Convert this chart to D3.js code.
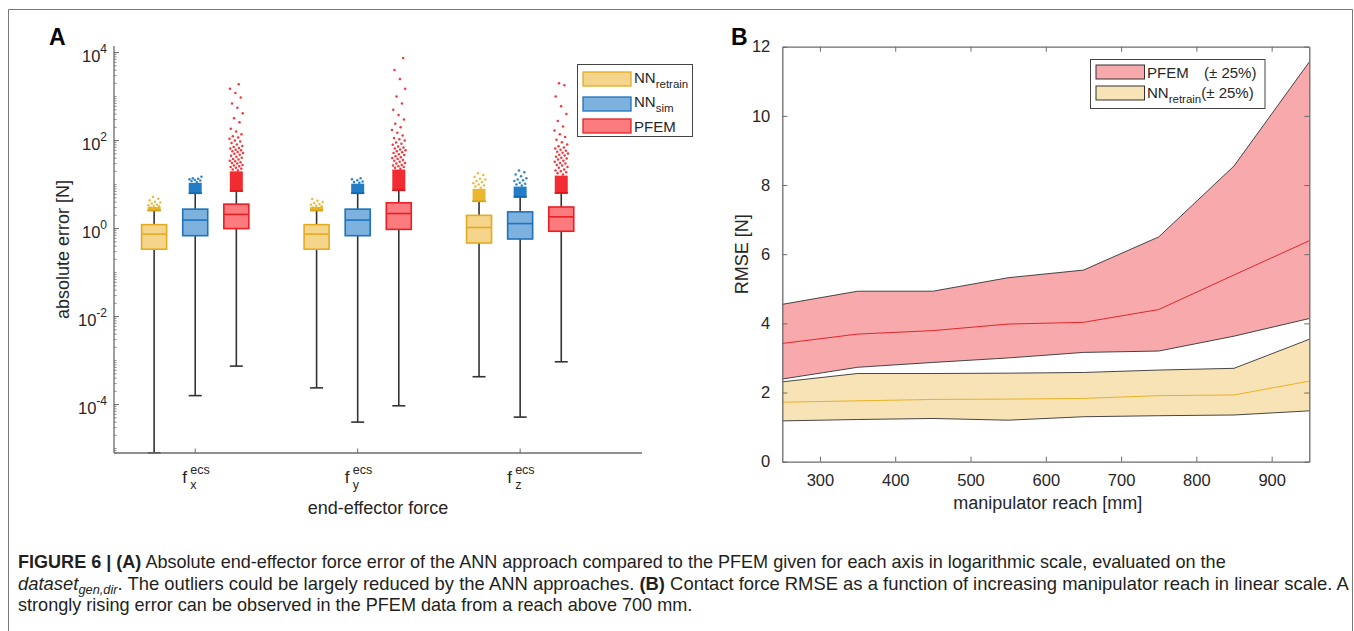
<!DOCTYPE html>
<html>
<head>
<meta charset="utf-8">
<script src="https://cdn.jsdelivr.net/npm/d3@7"></script>
<style>
    body { margin: 0; background: #fff; }
    svg text { font-family: "Liberation Sans", Arial, Helvetica, sans-serif; fill: #262626; }
</style>
</head>
<body>
<svg id="fig" width="1354" height="631"></svg>
<script>
(function() {
    'use strict';

    // ---------- Panel A data (absolute error, log scale) ----------
    var forceAxes = ["x", "y", "z"];
    var models = ["NN_retrain", "NN_sim", "PFEM"];
    // [lower whisker, q1, median, q3, upper whisker] for f_x, f_y, f_z
    var retrainBox = [[8e-6, 0.34, 0.75, 1.23, 2.6], [2.4e-4, 0.34, 0.75, 1.23, 2.6], [4.3e-4, 0.47, 1.06, 2.0, 4.2]];
    var simBox = [[1.6e-4, 0.69, 1.56, 2.77, 6.4], [4e-5, 0.69, 1.56, 2.77, 6.4], [5.2e-5, 0.58, 1.3, 2.4, 5.3]];
    var pfemBox = [[7.5e-4, 1.0, 2.1, 3.6, 7.2], [9.4e-5, 0.96, 2.2, 3.86, 7.5], [9.4e-4, 0.87, 1.85, 3.1, 6.5]];
    // top of the packed outlier cloud right above the whisker
    var retrainCloudTop = [3.1, 3.1, 8];
    var simCloudTop = [11, 10.5, 9];
    var pfemCloudTop = [20, 22, 16];
    // scattered outliers above the packed cloud
    var retrainOutliers = [
        [2.9, 3.0, 3.2, 3.3, 3.4, 3.5, 3.7, 3.9, 4.1, 4.4, 4.8, 5.2],
        [2.9, 3.0, 3.2, 3.3, 3.5, 3.6, 3.8, 4.0, 4.3, 4.7],
        [8.5, 9.0, 9.6, 10, 10.8, 11.5, 12, 13, 13.5, 15, 16.5, 18]
    ];
    var simOutliers = [
        [11.5, 12, 12.4, 12.8, 13.2, 13.6, 14, 15],
        [11, 11.5, 11.8, 12.5, 13.2, 14],
        [9.5, 10, 10.5, 11, 12, 12.5, 13, 14, 15.5, 17, 19, 21]
    ];
    var pfemOutliers = [
        [21, 22, 23, 24, 25, 26, 27, 28, 30, 31, 32, 34, 35, 37, 38, 41, 43, 45, 48, 50, 52, 55, 57, 60, 62, 66, 68, 72,
         75, 82, 88, 95, 100, 110, 118, 125, 140, 160, 185, 260, 320, 420, 560, 700, 950, 1200, 1500, 1900],
        [23, 24, 25, 26, 27, 28, 30, 31, 33, 35, 36, 38, 40, 42, 44, 47, 49, 52, 54, 57, 60, 63, 66, 70, 73, 80, 85, 90,
         100, 108, 115, 130, 150, 175, 200, 240, 300, 380, 500, 700, 1000, 1500, 2500, 4000, 7500],
        [17, 18, 19, 20, 21, 22, 24, 25, 27, 28, 30, 31, 33, 35, 37, 39, 41, 43, 46, 48, 51, 53, 56, 59, 62, 66, 70, 74,
         82, 92, 105, 120, 140, 170, 210, 280, 400, 600, 1000, 1800, 2000]
    ];
    var yTickExp = [-4, -2, 0, 2, 4];

    // ---------- Panel B data (RMSE vs reach) ----------
    var reach = [250, 350, 450, 550, 650, 750, 850, 950];
    var pfemMean = [3.42, 3.69, 3.79, 3.98, 4.03, 4.40, 5.40, 6.39];
    var pfemHigh = [4.55, 4.93, 4.93, 5.32, 5.54, 6.50, 8.55, 11.56];
    var pfemLow = [2.39, 2.73, 2.87, 3.00, 3.16, 3.20, 3.63, 4.14];
    var retrainMean = [1.72, 1.76, 1.80, 1.81, 1.83, 1.91, 1.93, 2.33];
    var retrainHigh = [2.31, 2.55, 2.55, 2.56, 2.58, 2.65, 2.70, 3.54];
    var retrainLow = [1.18, 1.22, 1.25, 1.20, 1.30, 1.33, 1.35, 1.47];
    var reachTicks = [300, 400, 500, 600, 700, 800, 900];
    var rmseTicks = [0, 2, 4, 6, 8, 10, 12];

    // Colours
    var boxFill = ["#f5d58c", "#7db2df", "#fb7b7e"];
    var boxStroke = ["#e4ab1f", "#1f72bb", "#ea1f25"];
    var dotColor = ["#e8b01a", "#0b6fc0", "#f0141c"];
    var axisColor = "#6b6b6b";

    var svg = d3.select("#fig");

    // Frame
    svg.append("path")
        .attr("d", "M8.5,640 L8.5,9.5 L1352.5,9.5 L1352.5,640")
        .attr("fill", "none")
        .attr("stroke", "#777")
        .attr("stroke-width", 1);

    // ================= Panel A =================
    var ax = { left: 114, right: 642, top: 46, bottom: 453 };
    var xA = d3.scaleLinear().domain([0.5, 3.75]).range([ax.left, ax.right]);
    var yA = d3.scaleLog().domain([Math.pow(10, -5.1), Math.pow(10, 4.15)]).range([ax.bottom, ax.top]);
    var gA = svg.append("g");
    var groupOffset = 0.253;
    var boxHalf = 12.5;

    var boxes = [retrainBox, simBox, pfemBox];
    var clouds = [retrainCloudTop, simCloudTop, pfemCloudTop];
    var outliers = [retrainOutliers, simOutliers, pfemOutliers];

    var jitter = function(i) {
        return ((i * 0.6180339) % 1) - 0.5;
    };

    forceAxes.forEach(function(axName, c) {
        models.forEach(function(m, s) {
            var st = boxes[s][c];
            var cx = xA(c + 1 + (s - 1) * groupOffset);
            var g = gA.append("g");

            // whiskers
            g.append("line")
                .attr("x1", cx).attr("x2", cx)
                .attr("y1", yA(st[0])).attr("y2", yA(st[1]))
                .attr("stroke", "#333").attr("stroke-width", 1.6);
            g.append("line")
                .attr("x1", cx).attr("x2", cx)
                .attr("y1", yA(st[3])).attr("y2", yA(st[4]))
                .attr("stroke", "#333").attr("stroke-width", 1.6);
            [st[0], st[4]].forEach(function(v) {
                g.append("line")
                    .attr("x1", cx - 6.5).attr("x2", cx + 6.5)
                    .attr("y1", yA(v)).attr("y2", yA(v))
                    .attr("stroke", "#333").attr("stroke-width", 1.6);
            });

            // outlier cloud
            var top = clouds[s][c];
            g.append("rect")
                .attr("x", cx - 6.5)
                .attr("y", yA(top))
                .attr("width", 13)
                .attr("height", yA(st[4]) - yA(top) + 1)
                .attr("fill", dotColor[s])
                .attr("opacity", 0.9);
            outliers[s][c].forEach(function(v, i) {
                g.append("circle")
                    .attr("cx", cx + jitter(i + 1) * 14)
                    .attr("cy", yA(v))
                    .attr("r", 1.25)
                    .attr("fill", dotColor[s])
                    .attr("opacity", 0.85);
            });

            // box
            g.append("rect")
                .attr("x", cx - boxHalf)
                .attr("y", yA(st[3]))
                .attr("width", boxHalf * 2)
                .attr("height", yA(st[1]) - yA(st[3]))
                .attr("fill", boxFill[s])
                .attr("stroke", boxStroke[s])
                .attr("stroke-width", 1.6);
            g.append("line")
                .attr("x1", cx - boxHalf).attr("x2", cx + boxHalf)
                .attr("y1", yA(st[2])).attr("y2", yA(st[2]))
                .attr("stroke", boxStroke[s]).attr("stroke-width", 1.6);
        });
    });

    // Axes A
    gA.append("line")
        .attr("x1", ax.left).attr("x2", ax.left)
        .attr("y1", ax.top).attr("y2", ax.bottom)
        .attr("stroke", axisColor).attr("stroke-width", 1.3);
    gA.append("line")
        .attr("x1", ax.left).attr("x2", ax.right)
        .attr("y1", ax.bottom).attr("y2", ax.bottom)
        .attr("stroke", axisColor).attr("stroke-width", 1.3);

    var minor = [];
    for (var n = -6; n <= 4; n++) {
        for (var k = 1; k <= 9; k++) {
            var v = k * Math.pow(10, n);
            if (v >= yA.domain()[0] && v <= yA.domain()[1]) minor.push(v);
        }
    }
    gA.selectAll(".minor").data(minor).enter().append("line")
        .attr("class", "minor")
        .attr("x1", ax.left).attr("x2", ax.left + 2.5)
        .attr("y1", function(d) { return yA(d); })
        .attr("y2", function(d) { return yA(d); })
        .attr("stroke", axisColor).attr("stroke-width", 0.8);
    gA.selectAll(".major").data(yTickExp).enter().append("line")
        .attr("class", "major")
        .attr("x1", ax.left).attr("x2", ax.left + 5)
        .attr("y1", function(d) { return yA(Math.pow(10, d)); })
        .attr("y2", function(d) { return yA(Math.pow(10, d)); })
        .attr("stroke", axisColor).attr("stroke-width", 1);

    var yLabels = gA.selectAll(".ylab").data(yTickExp).enter().append("text")
        .attr("class", "ylab")
        .attr("x", ax.left - 7)
        .attr("y", function(d) { return yA(Math.pow(10, d)) + 9; })
        .attr("text-anchor", "end")
        .style("font-size", "16.5px");
    yLabels.append("tspan").text("10");
    yLabels.append("tspan")
        .attr("dy", -9)
        .style("font-size", "12px")
        .text(function(d) { return d; });

    forceAxes.forEach(function(a, c) {
        var tx = xA(c + 1);
        gA.append("line")
            .attr("x1", tx).attr("x2", tx)
            .attr("y1", ax.bottom).attr("y2", ax.bottom - 4.5)
            .attr("stroke", axisColor).attr("stroke-width", 1);
        gA.append("text").attr("x", tx - 13).attr("y", ax.bottom + 30)
            .style("font-size", "17px").text("f");
        gA.append("text").attr("x", tx - 5).attr("y", ax.bottom + 21)
            .style("font-size", "12.5px").text("ecs");
        gA.append("text").attr("x", tx - 5).attr("y", ax.bottom + 36)
            .style("font-size", "12.5px").text(a);
    });

    gA.append("text")
        .attr("x", (ax.left + ax.right) / 2)
        .attr("y", 514)
        .attr("text-anchor", "middle")
        .style("font-size", "18px")
        .text("end-effector force");
    gA.append("text")
        .attr("transform", "translate(69," + ((ax.top + ax.bottom) / 2) + ") rotate(-90)")
        .attr("text-anchor", "middle")
        .style("font-size", "18px")
        .text("absolute error [N]");

    // Legend A
    var legA = gA.append("g");
    legA.append("rect")
        .attr("x", 577.5).attr("y", 64.5).attr("width", 115).attr("height", 72)
        .attr("fill", "#fff").attr("stroke", "#444").attr("stroke-width", 1);
    [72, 97, 119].forEach(function(ly, s) {
        legA.append("rect")
            .attr("x", 583).attr("y", ly).attr("width", 48).attr("height", 14)
            .attr("fill", boxFill[s]).attr("stroke", boxStroke[s]).attr("stroke-width", 1.3);
    });
    var l1 = legA.append("text").attr("x", 634).attr("y", 83).style("font-size", "15px");
    l1.append("tspan").text("NN");
    l1.append("tspan").attr("dy", 5).style("font-size", "11.5px").text("retrain");
    var l2 = legA.append("text").attr("x", 634).attr("y", 107).style("font-size", "15px");
    l2.append("tspan").text("NN");
    l2.append("tspan").attr("dy", 5).style("font-size", "11.5px").text("sim");
    legA.append("text").attr("x", 634).attr("y", 131.5).style("font-size", "15px").text("PFEM");

    // Panel letters
    svg.append("text").attr("x", 49).attr("y", 45)
        .style("font-size", "23px").style("font-weight", "bold").style("fill", "#000").text("A");
    svg.append("text").attr("x", 731).attr("y", 45)
        .style("font-size", "23px").style("font-weight", "bold").style("fill", "#000").text("B");

    // ================= Panel B =================
    var bx = { left: 782.3, right: 1309.3, top: 46.7, bottom: 461.7 };
    var xB = d3.scaleLinear().domain([250, 950]).range([bx.left, bx.right]);
    var yB = d3.scaleLinear().domain([0, 12]).range([bx.bottom, bx.top]);
    var gB = svg.append("g");

    var band = function(lo, hi) {
        return d3.area()
            .x(function(d, i) { return xB(reach[i]); })
            .y0(function(d, i) { return yB(lo[i]); })
            .y1(function(d, i) { return yB(hi[i]); })(reach);
    };
    var line = function(vals) {
        return d3.line()
            .x(function(d, i) { return xB(reach[i]); })
            .y(function(d) { return yB(d); })(vals);
    };

    gB.append("path").attr("d", band(pfemLow, pfemHigh)).attr("fill", "#f7a9ac");
    gB.append("path").attr("d", band(retrainLow, retrainHigh)).attr("fill", "#f7e3b5");
    [pfemHigh, pfemLow, retrainHigh, retrainLow].forEach(function(vals) {
        gB.append("path").attr("d", line(vals))
            .attr("fill", "none").attr("stroke", "#333").attr("stroke-width", 0.9);
    });
    gB.append("path").attr("d", line(pfemMean))
        .attr("fill", "none").attr("stroke", "#e4262b").attr("stroke-width", 1);
    gB.append("path").attr("d", line(retrainMean))
        .attr("fill", "none").attr("stroke", "#e9b324").attr("stroke-width", 1);

    // Axes B (ticks pointing inward)
    var axB = function(axis, tx, ty, labels) {
        var g = gB.append("g")
            .attr("transform", "translate(" + tx + "," + ty + ")")
            .call(axis);
        g.select(".domain").attr("stroke", axisColor).attr("stroke-width", 1.3);
        g.selectAll(".tick line").attr("stroke", axisColor);
        g.selectAll(".tick text")
            .style("font-size", "16.5px")
            .style("font-family", "'Liberation Sans', Arial, sans-serif")
            .attr("fill", "#262626");
        if (!labels) g.selectAll(".tick text").remove();
        return g;
    };
    axB(d3.axisBottom(xB).tickValues(reachTicks).tickSizeInner(-5).tickSizeOuter(0).tickPadding(13),
        0, bx.bottom, true);
    axB(d3.axisTop(xB).tickValues(reachTicks).tickSizeInner(-5).tickSizeOuter(0), 0, bx.top, false);
    axB(d3.axisLeft(yB).tickValues(rmseTicks).tickSizeInner(-5).tickSizeOuter(0).tickPadding(12),
        bx.left, 0, true);
    axB(d3.axisRight(yB).tickValues(rmseTicks).tickSizeInner(-5).tickSizeOuter(0), bx.right, 0, false);

    gB.append("text")
        .attr("x", (bx.left + bx.right) / 2 + 2)
        .attr("y", 509)
        .attr("text-anchor", "middle")
        .style("font-size", "18px")
        .text("manipulator reach [mm]");
    gB.append("text")
        .attr("transform", "translate(748," + ((bx.top + bx.bottom) / 2) + ") rotate(-90)")
        .attr("text-anchor", "middle")
        .style("font-size", "18px")
        .text("RMSE [N]");

    // Legend B
    var legB = gB.append("g");
    legB.append("rect")
        .attr("x", 1090.5).attr("y", 59.5).attr("width", 174.5).attr("height", 49)
        .attr("fill", "#fff").attr("stroke", "#444").attr("stroke-width", 1);
    legB.append("rect").attr("x", 1096).attr("y", 65).attr("width", 48.5).attr("height", 14)
        .attr("fill", "#f7a9ac").attr("stroke", "#333").attr("stroke-width", 1);
    legB.append("rect").attr("x", 1096).attr("y", 86).attr("width", 48.5).attr("height", 14)
        .attr("fill", "#f7e3b5").attr("stroke", "#333").attr("stroke-width", 1);
    legB.append("text").attr("x", 1147).attr("y", 77.5).style("font-size", "15px").text("PFEM");
    legB.append("text").attr("x", 1204).attr("y", 77.5).style("font-size", "15px").text("(\u00b1 25%)");
    var lb = legB.append("text").attr("x", 1147).attr("y", 97.5).style("font-size", "15px");
    lb.append("tspan").text("NN");
    lb.append("tspan").attr("dy", 5).style("font-size", "11.5px").text("retrain");
    lb.append("tspan").attr("dy", -5).text("(\u00b1 25%)");

    // ================= Caption =================
    var captionLines = [
        [["FIGURE 6 | (A)", "b"], [" Absolute end-effector force error of the ANN approach compared to the PFEM given for each axis in logarithmic scale, evaluated on the", ""]],
        [["dataset", "i"], ["gen,dir", "sub"], [". The outliers could be largely reduced by the ANN approaches. ", ""], ["(B)", "b"],
         [" Contact force RMSE as a function of increasing manipulator reach in linear scale. A", ""]],
        [["strongly rising error can be observed in the PFEM data from a reach above 700 mm.", ""]]
    ];
    var captionRight = [1227, 1350, 693];
    var captionBase = [568, 590, 611];

    captionLines.forEach(function(parts, li) {
        var g = svg.append("g");
        var t = g.append("text").attr("x", 0).attr("y", 0).style("font-size", "18px").style("fill", "#231f20");
        parts.forEach(function(p) {
            var ts = t.append("tspan").text(p[0]);
            if (p[1] === "b") ts.style("font-weight", "bold");
            if (p[1] === "i") ts.style("font-style", "italic");
            if (p[1] === "sub") ts.style("font-style", "italic").style("font-size", "12.5px").attr("dy", 4);
            if (p[1] === "" && li === 1 && p[0].charAt(0) === ".") ts.attr("dy", -4);
        });
        var w = t.node().getComputedTextLength();
        var sx = (captionRight[li] - 18) / w;
        g.attr("transform", "translate(18," + captionBase[li] + ") scale(" + sx + ",1)");
    });
})();
</script>
</body>
</html>
